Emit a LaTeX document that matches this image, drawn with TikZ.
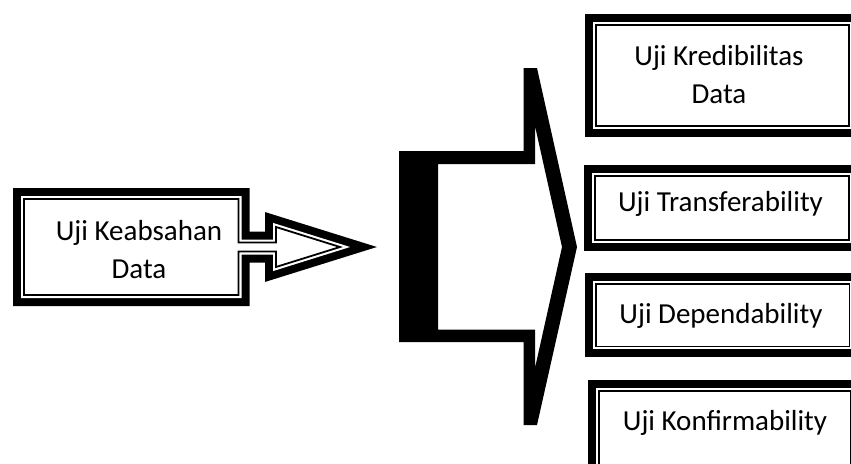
\documentclass[tikz,border=0pt]{standalone}
\usepackage{fontspec}
\setmainfont{Carlito}
\begin{document}
\begin{tikzpicture}[x=1pt,y=-1pt,
  % thick-thin compound frame: wide black band outside, white gap, thin black line
  frame/.style={preaction={draw=black,line width=22pt},
                preaction={draw=white,line width=6pt},
                fill=white, draw=black, line width=1.8pt, line join=miter},
  box/.style={frame, rectangle, inner sep=0pt, anchor=north west},
  % base anchor of a two-line label sits on its last line
  lbl/.style={font=\fontsize{29}{38}\selectfont, align=center, inner sep=0pt, anchor=base},
]
\useasboundingbox (0,0) rectangle (851,463);
\clip (0,0) rectangle (851,463);

% source box merged with its double-outlined arrow
\draw[frame] (24,199) -- (238.5,199) -- (238.5,242.5) -- (276,242.5) -- (276,227)
  -- (340,247) -- (276,267) -- (276,251.5) -- (238.5,251.5) -- (238.5,295)
  -- (24,295) -- cycle;
\node[lbl] (src) at (139,278.5) {Uji Keabsahan\\Data};

% large outlined block arrow
\fill[black, even odd rule]
  (399,151) -- (523.5,151) -- (523.5,68) -- (537,68) -- (577,247) -- (537,425)
  -- (523.5,425) -- (523.5,342) -- (399,342) -- cycle
  (438,164) -- (535,164) -- (535,126) -- (562,247) -- (535,368) -- (535,329.5)
  -- (438,329.5) -- cycle;

% target boxes
\node[box, minimum width=253pt,   minimum height=101pt] (b1) at (595,24) {};
\node[box, minimum width=254pt,   minimum height=64pt]  (b2) at (594,175) {};
\node[box, minimum width=253.5pt, minimum height=62.5pt] (b3) at (595,283) {};
\node[box, minimum width=251.8pt, minimum height=90pt]  (b4) at (597.7,390.3) {};

\node[lbl] (t1) at (719,103.5) {Uji Kredibilitas\\Data};
\node[lbl] (t2) at (720.5,211) {Uji Transferability};
\node[lbl] (t3) at (721,323.5) {Uji Dependability};
\node[lbl] (t4) at (725,430) {Uji Konfirmability};
\end{tikzpicture}
\end{document}
